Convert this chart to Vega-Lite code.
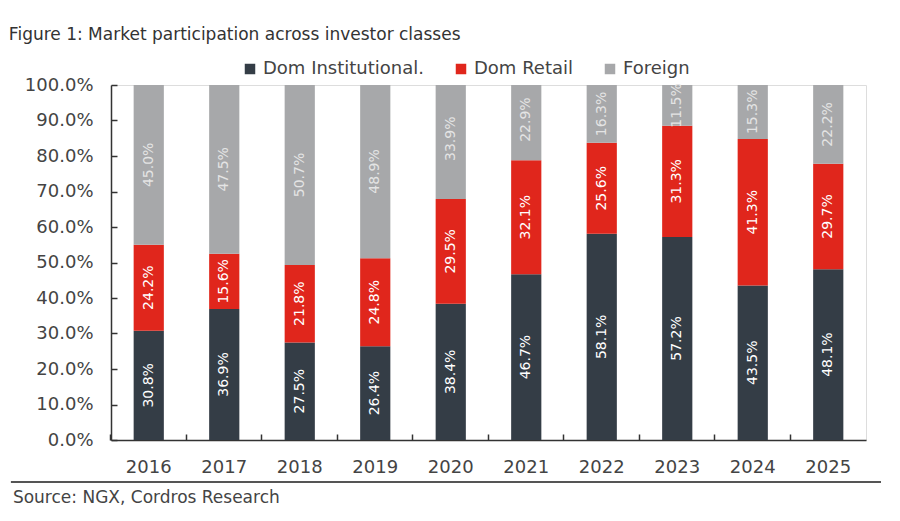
{
  "$schema": "https://vega.github.io/schema/vega-lite/v6.json",
  "description": "Market participation across investor classes",
  "background": "white",
  "padding": {"left": 8, "top": 26, "right": 5, "bottom": 5},
  "title": {
    "text": "Figure 1: Market participation across investor classes",
    "anchor": "start",
    "font": "DejaVu Sans",
    "fontSize": 17,
    "fontWeight": "normal",
    "color": "#333333",
    "offset": 16
  },
  "data": {
    "values": [
      {"year": "2016", "cls": "Dom Institutional.", "share": 0.308},
      {"year": "2016", "cls": "Dom Retail", "share": 0.242},
      {"year": "2016", "cls": "Foreign", "share": 0.450},
      {"year": "2017", "cls": "Dom Institutional.", "share": 0.369},
      {"year": "2017", "cls": "Dom Retail", "share": 0.156},
      {"year": "2017", "cls": "Foreign", "share": 0.475},
      {"year": "2018", "cls": "Dom Institutional.", "share": 0.275},
      {"year": "2018", "cls": "Dom Retail", "share": 0.218},
      {"year": "2018", "cls": "Foreign", "share": 0.507},
      {"year": "2019", "cls": "Dom Institutional.", "share": 0.264},
      {"year": "2019", "cls": "Dom Retail", "share": 0.248},
      {"year": "2019", "cls": "Foreign", "share": 0.489},
      {"year": "2020", "cls": "Dom Institutional.", "share": 0.384},
      {"year": "2020", "cls": "Dom Retail", "share": 0.295},
      {"year": "2020", "cls": "Foreign", "share": 0.339},
      {"year": "2021", "cls": "Dom Institutional.", "share": 0.467},
      {"year": "2021", "cls": "Dom Retail", "share": 0.321},
      {"year": "2021", "cls": "Foreign", "share": 0.229},
      {"year": "2022", "cls": "Dom Institutional.", "share": 0.581},
      {"year": "2022", "cls": "Dom Retail", "share": 0.256},
      {"year": "2022", "cls": "Foreign", "share": 0.163},
      {"year": "2023", "cls": "Dom Institutional.", "share": 0.572},
      {"year": "2023", "cls": "Dom Retail", "share": 0.313},
      {"year": "2023", "cls": "Foreign", "share": 0.115},
      {"year": "2024", "cls": "Dom Institutional.", "share": 0.435},
      {"year": "2024", "cls": "Dom Retail", "share": 0.413},
      {"year": "2024", "cls": "Foreign", "share": 0.153},
      {"year": "2025", "cls": "Dom Institutional.", "share": 0.481},
      {"year": "2025", "cls": "Dom Retail", "share": 0.297},
      {"year": "2025", "cls": "Foreign", "share": 0.222}
    ]
  },
  "columns": 1,
  "align": "none",
  "spacing": 4,
  "concat": [
    {
      "width": 755,
      "height": 355,
      "encoding": {
        "x": {
          "field": "year",
          "type": "nominal",
          "title": null,
          "scale": {"paddingInner": 0.6, "paddingOuter": 0.3},
          "axis": {
            "labelAngle": 0,
            "labelFont": "DejaVu Sans",
            "labelFontSize": 18,
            "labelColor": "#444444",
            "labelPadding": 24,
            "domainColor": "#333333",
            "domainWidth": 1.5,
            "tickColor": "#333333",
            "tickWidth": 1.5,
            "tickSize": -6,
            "bandPosition": -0.755
          }
        },
        "y": {
          "field": "share",
          "type": "quantitative",
          "stack": "zero",
          "title": " ",
          "scale": {"domain": [0, 1], "nice": false},
          "axis": {
            "values": [0, 0.1, 0.2, 0.3, 0.4, 0.5, 0.6, 0.7, 0.8, 0.9, 1],
            "format": ".1%",
            "grid": false,
            "titleFontSize": 1,
            "titlePadding": 14,
            "labelFont": "DejaVu Sans",
            "labelFontSize": 18,
            "labelColor": "#444444",
            "labelPadding": 24,
            "domainColor": "#333333",
            "domainWidth": 1.5,
            "tickColor": "#333333",
            "tickWidth": 1.5,
            "tickSize": -6
          }
        },
        "order": {"field": "cls", "sort": "ascending"}
      },
      "layer": [
        {
          "mark": {"type": "bar", "clip": true},
          "encoding": {
            "color": {
              "field": "cls",
              "type": "nominal",
              "scale": {
                "domain": ["Dom Institutional.", "Dom Retail", "Foreign"],
                "range": ["#343d46", "#e0261c", "#a7a8aa"]
              },
              "legend": {
                "title": null,
                "orient": "none",
                "legendX": 130,
                "legendY": -25,
                "direction": "horizontal",
                "symbolType": "square",
                "symbolSize": 110,
                "symbolStrokeWidth": 0,
                "labelFont": "DejaVu Sans",
                "labelFontSize": 18,
                "labelColor": "#444444",
                "labelLimit": 400,
                "columnPadding": 28,
                "labelOffset": 4
              }
            }
          }
        },
        {
          "mark": {
            "type": "text",
            "angle": 270,
            "font": "DejaVu Sans",
            "fontSize": 14,
            "align": "center",
            "baseline": "middle"
          },
          "encoding": {
            "y": {"field": "share", "type": "quantitative", "stack": "zero", "bandPosition": 0.5},
            "detail": {"field": "cls"},
            "text": {"field": "share", "type": "quantitative", "format": ".1%"},
            "color": {
              "condition": {"test": "datum.cls === 'Foreign'", "value": "#e4e4e4"},
              "value": "#ffffff"
            }
          }
        }
      ]
    },
    {
      "width": 770,
      "height": 36,
      "data": {"values": [{"src": "Source: NGX, Cordros Research"}]},
      "view": {"stroke": null},
      "layer": [
        {
          "mark": {"type": "rule", "color": "#555555", "strokeWidth": 2},
          "encoding": {
            "x": {"datum": -0.13, "type": "quantitative", "scale": {"domain": [0, 1]}, "axis": null},
            "x2": {"datum": 1},
            "y": {"datum": 1, "type": "quantitative", "scale": {"domain": [0, 1]}, "axis": null}
          }
        },
        {
          "mark": {
            "type": "text",
            "align": "left",
            "baseline": "middle",
            "font": "DejaVu Sans",
            "fontSize": 17,
            "color": "#444444",
            "dx": 2
          },
          "encoding": {
            "x": {"datum": -0.13, "type": "quantitative", "scale": {"domain": [0, 1]}, "axis": null},
            "y": {"datum": 0.55, "type": "quantitative", "scale": {"domain": [0, 1]}, "axis": null},
            "text": {"field": "src"}
          }
        }
      ]
    }
  ]
}
